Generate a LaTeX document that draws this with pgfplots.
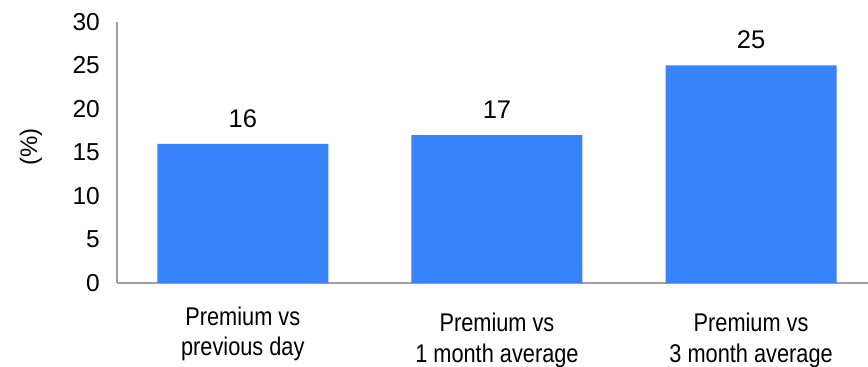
\documentclass[border=0pt]{standalone}
\usepackage{fontspec}
\setmainfont{Liberation Sans}
\newfontfamily\narrowfont[FakeStretch=0.85]{Liberation Sans}
\usepackage{pgfplots}
\pgfplotsset{compat=1.18}
\definecolor{barblue}{RGB}{56,130,250}
\definecolor{axisgray}{RGB}{160,160,160}
\begin{document}
\fontsize{25pt}{30pt}\selectfont
\begin{tikzpicture}
\useasboundingbox (0,0) rectangle (868pt,367pt);
\begin{axis}[
  at={(117pt,84pt)}, anchor=south west,
  scale only axis, width=751pt, height=261pt,
  xmin=-0.495, xmax=2.46, ymin=0, ymax=30,
  axis lines=left, axis line style={-, draw=axisgray, line width=1.6pt},
  ybar, bar width=0.673,
  xtick={0,1,2},
  xticklabels={{Premium vs\\previous day},
               {\rule{0pt}{25.4pt}Premium vs\\1 month average},
               {\rule{0pt}{25.4pt}Premium vs\\3 month average}},
  ytick={0,5,...,30},
  major tick length=0pt,
  yticklabel style={font=\fontsize{24.5pt}{29pt}\selectfont, anchor=east, inner sep=0pt, xshift=-17pt},
  xticklabel style={font=\narrowfont\fontsize{25.6pt}{30.5pt}\selectfont, align=center, anchor=north, inner sep=0pt, yshift=-23.3pt},
  /pgf/number format/assume math mode=true,
  ylabel={(\%)},
  ylabel style={at={(axis description cs:-0.1145,0.522)}, anchor=center, font=\fontsize{24pt}{29pt}\selectfont},
  nodes near coords,
  nodes near coords style={anchor=south, inner sep=0pt, yshift=16.3pt, font=\fontsize{25.5pt}{30pt}\selectfont},
  clip=false,
]
\addplot[fill=barblue, draw=none] coordinates {(0,16) (1,17) (2,25)};
\end{axis}
\end{tikzpicture}
\end{document}
